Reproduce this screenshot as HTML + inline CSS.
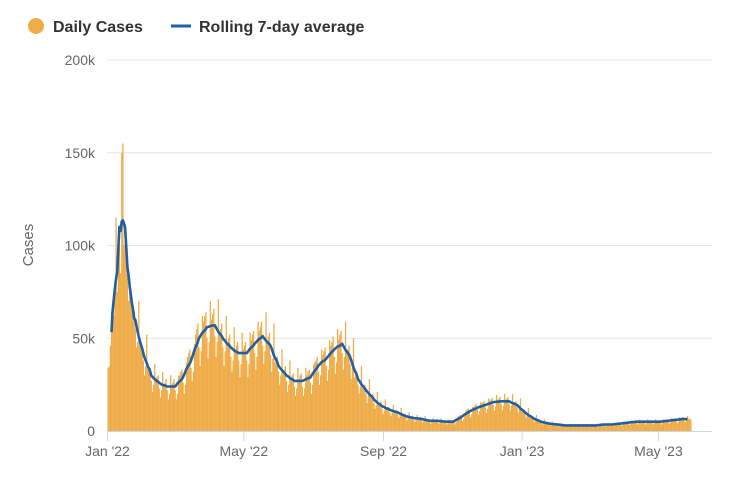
<!DOCTYPE html>
<html><head><meta charset="utf-8">
<style>
body{margin:0;background:#fff;font-family:"Liberation Sans",sans-serif;}
svg{display:block}
</style></head>
<body>
<svg id="chart" width="754" height="482">
  <g>
    <g>
      <circle cx="36" cy="26" r="8" fill="#efad4a"/>
      <text x="53" y="32" font-size="16" fill="#333" font-weight="bold">Daily Cases</text>
    </g>
    <g>
      <line x1="171" y1="26" x2="191" y2="26" stroke="#1f5fa6" stroke-width="3"/>
      <text x="199" y="32" font-size="16" fill="#333" font-weight="bold">Rolling 7-day average</text>
    </g>
  </g>
  <text x="0" y="0" transform="translate(33,245) rotate(-90)" text-anchor="middle" font-size="15" fill="#666">Cases</text>
  <g id="grid"></g>
  <g id="bars"></g>
  <g id="line"></g>
  <g id="xaxis"></g>
</svg>
<script>
const yTicks=[0,50,100,150,200];
const yTickLabels=["0","50k","100k","150k","200k"];
const xTickDays=[0,120,243,365,485];
const xTickLabels=["Jan '22","May '22","Sep '22","Jan '23","May '23"];
const dailyCases=[
34,35,46,64,60,62,72,
115,75,90,100,85,150,155,
100,110,95,88,70,80,75,
72,66,64,55,45,48,70,
48,46,45,38,30,35,52,
33,34,34,27,21,25,36,
28,29,30,23,18,22,32,
25,26,28,22,17,20,30,
25,26,28,22,17,20,30,
30,32,33,26,20,25,37,
40,42,44,34,27,32,47,
52,55,58,45,35,43,62,
59,62,64,50,39,48,70,
60,63,66,51,40,48,71,
52,55,58,45,35,43,62,
47,50,52,40,32,38,56,
44,46,48,38,29,36,53,
44,46,48,38,29,36,53,
49,52,54,42,33,40,59,
54,56,59,46,36,43,64,
48,51,53,41,32,39,58,
37,38,40,32,25,30,44,
31,33,35,27,21,25,38,
28,30,31,24,19,23,34,
28,30,31,24,19,23,34,
30,32,33,26,20,25,36,
37,38,40,32,25,30,44,
41,43,45,35,27,33,49,
46,48,51,40,31,37,55,
49,52,54,42,33,40,59,
42,44,46,36,28,34,50,
29,31,32,25,20,24,35,
23,24,25,20,15,19,28,
18,19,20,15,12,14,21,
14,15,16,12,9,11,17,
12,13,13,10,8,10,14,
10.5,11,11.5,9,7,8.5,12.5,
8.4,8.8,9.2,7.2,5.6,6.8,10,
7.4,7.7,8,6.3,4.9,6,8.7,
6.8,7.2,7.5,5.9,4.6,5.5,8.1,
5.8,6,6.3,5,3.9,4.7,6.9,
5.8,6,6.3,5,3.9,4.7,6.9,
5.3,5.5,5.8,4.5,3.5,4.3,6.3,
5.3,5.5,5.8,4.5,3.5,4.3,6.3,
7.9,8.3,8.6,6.8,5.3,6.4,9.4,
11,11.6,12.1,9.5,7.4,8.9,13.1,
13.1,13.8,14.4,11.3,8.8,10.6,15.6,
14.7,15.4,16.1,12.6,9.8,11.9,17.5,
16.3,17,17.8,14,10.9,13.2,19.4,
16.8,17.6,18.4,14.4,11.2,13.6,20,
16.8,17.6,18.4,14.4,11.2,13.6,20,
14.7,15.4,16.1,12.6,9.8,11.9,17.5,
10.5,11,11.5,9,7,8.5,12.5,
7.4,7.7,8,6.3,4.9,6,8.7,
5.3,5.5,5.8,4.5,3.5,4.3,6.3,
4.2,4.4,4.6,3.6,2.8,3.4,5,
3.7,3.9,4,3.2,2.5,3,4.4,
3.2,3.3,3.5,2.7,2.1,2.6,3.8,
3.2,3.3,3.5,2.7,2.1,2.6,3.8,
3.2,3.3,3.5,2.7,2.1,2.6,3.8,
3.2,3.3,3.5,2.7,2.1,2.6,3.8,
3.2,3.3,3.5,2.7,2.1,2.6,3.8,
3.7,3.9,4,3.2,2.5,3,4.4,
3.7,3.9,4,3.2,2.5,3,4.4,
4.2,4.4,4.6,3.6,2.8,3.4,5,
4.7,5,5.2,4.1,3.2,3.8,5.6,
5.3,5.5,5.8,4.5,3.5,4.3,6.3,
5.3,5.5,5.8,4.5,3.5,4.3,6.3,
5.3,5.5,5.8,4.5,3.5,4.3,6.3,
5.3,5.5,5.8,4.5,3.5,4.3,6.3,
5.8,6,6.3,5,3.9,4.7,6.9,
6.3,6.6,6.9,5.4,4.2,5.1,7.5,
6.8,7.2,7.5,5.9,4.6,5.5,8.1,
6.5,6.8,6
];
const NS="http://www.w3.org/2000/svg";
const X0=107.5, PX_PER_DAY=1.136, Y0=431, Y_TOP=60, Y_MAX=200;
function xScale(d){return X0+d*PX_PER_DAY;}
function yScale(v){return Y0-(v/Y_MAX)*(Y0-Y_TOP);}
function mk(tag,attrs,parent){const e=document.createElementNS(NS,tag);for(const k in attrs)e.setAttribute(k,attrs[k]);parent.appendChild(e);return e;}
const grid=document.getElementById('grid');
yTicks.forEach((t,i)=>{
  const y=yScale(t);
  if(t>0){
    const gl=mk('line',{x1:107,x2:712,y1:y,y2:y,stroke:'#e6e6e6','stroke-width':1},grid);
    
    
  }
  const tx=mk('text',{x:95,y:y+5,'text-anchor':'end','font-size':14,fill:'#666'},grid);
  tx.textContent=yTickLabels[i];
  
  
});
const bars=document.getElementById('bars');
dailyCases.forEach((v,d)=>{
  const y=yScale(v);
  const r=mk('rect',{x:xScale(d),y:y,width:PX_PER_DAY+0.15,height:Y0-y,fill:'#efad4a'},bars);
  
  
});
const pts=[];
for(let i=6;i<dailyCases.length;i++){
  let s=0;for(let j=i-6;j<=i;j++)s+=dailyCases[j];
  pts.push(xScale(i-3+0.5).toFixed(1)+','+yScale(s/7).toFixed(1));
}
const pl=mk('polyline',{points:pts.join(' '),fill:'none',stroke:'#1f5fa6','stroke-width':2.6,'stroke-linejoin':'round'},document.getElementById('line'));


const xa=document.getElementById('xaxis');
const al=mk('line',{x1:107,x2:712,y1:Y0+0.5,y2:Y0+0.5,stroke:'#ccd6eb','stroke-width':1},xa);


xTickDays.forEach((d,i)=>{
  const x=xScale(d);
  const tk=mk('line',{x1:x,x2:x,y1:Y0,y2:Y0+10,stroke:'#ccd6eb','stroke-width':1},xa);
  
  
  const tx=mk('text',{x:x,y:456,'text-anchor':'middle','font-size':14,fill:'#666'},xa);
  tx.textContent=xTickLabels[i];
  
  
});
</script>
</body></html>
